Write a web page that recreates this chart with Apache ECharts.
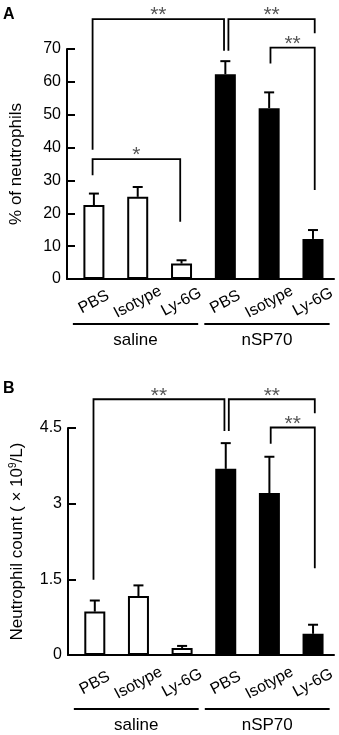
<!DOCTYPE html>
<html>
<head>
<meta charset="utf-8">
<script src="https://cdn.jsdelivr.net/npm/echarts@6/dist/echarts.min.js"></script>
<style>
    html, body { margin: 0; padding: 0; background: #fff; }
    #chart { width: 339px; height: 735px; }
</style>
</head>
<body>
<div id="chart"></div>
<script>
const categories = ["PBS", "Isotype", "Ly-6G", "PBS", "Isotype", "Ly-6G"];
const groupNames = ["saline", "nSP70"];
const groupRanges = [[0, 2], [3, 5]];

// panel A: % of neutrophils
const pctMean = [22.5, 25.0, 4.7, 62.3, 52.0, 12.2];
const pctErr = [3.5, 3.0, 1.0, 4.0, 4.8, 2.7];
const pctTicks = [0, 10, 20, 30, 40, 50, 60, 70];
// [x left, x right, top y, left leg end, right leg end]
const pctBrackets = [
    [-0.03, 2.97, 79.1, 39.3, 69.5],
    [3.07, 5.04, 79.1, 69.5, 74.8],
    [4.03, 5.04, 70.4, 65.6, 27.1],
    [-0.03, 1.97, 36.5, 31.6, 17.4]
];
const pctMarks = ["**", "**", "**", "*"];

// panel B: neutrophil count
const countMean = [0.86, 1.17, 0.14, 3.69, 3.21, 0.42];
const countErr = [0.22, 0.21, 0.04, 0.51, 0.72, 0.18];
const countTicks = [0, 1.5, 3, 4.5];
const countBrackets = [
    [-0.03, 2.97, 5.07, 1.49, 4.44],
    [3.07, 5.04, 5.07, 4.44, 4.79],
    [4.03, 5.04, 4.51, 4.19, 1.72]
];
const countMarks = ["**", "**", "**"];

const FONT = "Liberation Sans, Arial, sans-serif";

function groupOf (i) {
    return groupRanges.findIndex(r => i >= r[0] && i <= r[1]);
}

function barSeries (axisIndex, means) {
    return {
        type: "bar",
        xAxisIndex: axisIndex,
        yAxisIndex: axisIndex,
        barWidth: 21,
        data: means.map((m, i) => ({
            value: [i, m],
            itemStyle: { color: groupOf(i) === 0 ? "#fff" : "#000" }
        })),
        itemStyle: { borderColor: "#000", borderWidth: 2 },
        silent: true,
        z: 2
    };
}

function errorSeries (axisIndex, means, errs) {
    return {
        type: "custom",
        xAxisIndex: axisIndex,
        yAxisIndex: axisIndex,
        data: means.map((m, i) => [i, m, errs[i]]),
        encode: { x: 0, y: 1 },
        silent: true,
        z: 3,
        renderItem: function (params, api) {
            const x = api.value(0), m = api.value(1), e = api.value(2);
            const base = api.coord([x, m]);
            const top = api.coord([x, m + e]);
            const st = { stroke: "#000", lineWidth: 2 };
            return {
                type: "group",
                children: [
                    { type: "line", shape: { x1: top[0], y1: base[1], x2: top[0], y2: top[1] }, style: st },
                    { type: "line", shape: { x1: top[0] - 5, y1: top[1], x2: top[0] + 5, y2: top[1] }, style: st }
                ]
            };
        }
    };
}

function bracketSeries (axisIndex, brackets, marks) {
    return {
        type: "custom",
        xAxisIndex: axisIndex,
        yAxisIndex: axisIndex,
        data: brackets,
        encode: { x: [0, 1], y: [2, 3, 4] },
        clip: false,
        silent: true,
        z: 4,
        renderItem: function (params, api) {
            const x1 = api.value(0), x2 = api.value(1), y = api.value(2);
            const a = api.coord([x1, api.value(3)]);
            const b = api.coord([x1, y]);
            const c = api.coord([x2, y]);
            const d = api.coord([x2, api.value(4)]);
            return {
                type: "group",
                children: [
                    {
                        type: "polyline",
                        shape: { points: [a, b, c, d] },
                        style: { stroke: "#000", lineWidth: 1.8, fill: null }
                    },
                    {
                        type: "text",
                        style: {
                            text: marks[params.dataIndex],
                            x: (b[0] + c[0]) / 2,
                            y: b[1] + 7,
                            align: "center",
                            verticalAlign: "bottom",
                            fill: "#555",
                            fontSize: 21,
                            fontFamily: FONT
                        }
                    }
                ]
            };
        }
    };
}

function groupSeries (axisIndex, lineGap, textGap) {
    return {
        type: "custom",
        xAxisIndex: axisIndex,
        yAxisIndex: axisIndex,
        data: groupRanges,
        encode: { x: [0, 1] },
        clip: false,
        silent: true,
        renderItem: function (params, api) {
            const p1 = api.coord([api.value(0) - 0.48, 0]);
            const p2 = api.coord([api.value(1) + 0.38, 0]);
            const y = p1[1] + lineGap;
            return {
                type: "group",
                children: [
                    {
                        type: "line",
                        shape: { x1: p1[0], y1: y, x2: p2[0], y2: y },
                        style: { stroke: "#000", lineWidth: 1.8 }
                    },
                    {
                        type: "text",
                        style: {
                            text: groupNames[params.dataIndex],
                            x: (p1[0] + p2[0]) / 2,
                            y: p1[1] + textGap,
                            align: "center",
                            verticalAlign: "middle",
                            fill: "#000",
                            fontSize: 17,
                            fontFamily: FONT
                        }
                    }
                ]
            };
        }
    };
}

function xAxisFor (gridIndex, labelMargin) {
    return {
        type: "value",
        gridIndex: gridIndex,
        min: -0.614,
        max: 5.48,
        axisLine: { show: true, onZero: false, lineStyle: { color: "#000", width: 2 } },
        axisTick: { show: false },
        splitLine: { show: false },
        axisLabel: {
            customValues: categories.map((c, i) => i),
            formatter: v => categories[Math.round(v)],
            rotate: 28,
            align: "center",
            verticalAlign: "middle",
            margin: labelMargin,
            color: "#000",
            fontSize: 16,
            fontFamily: FONT
        }
    };
}

function yAxisFor (gridIndex, ticks, name) {
    return {
        type: "value",
        gridIndex: gridIndex,
        min: ticks[0],
        max: ticks[ticks.length - 1],
        interval: ticks[1] - ticks[0],
        name: name,
        nameLocation: "middle",
        nameGap: 42,
        nameTextStyle: {
            color: "#000",
            fontSize: 17,
            fontFamily: FONT,
            rich: { sup: { fontSize: 10, verticalAlign: "top", padding: [0, 0, 8, 0], fontFamily: FONT } }
        },
        axisLine: { show: true, onZero: false, lineStyle: { color: "#000", width: 2 } },
        axisTick: { show: true, inside: true, length: 8, lineStyle: { color: "#000", width: 2 } },
        splitLine: { show: false },
        axisLabel: { color: "#000", fontSize: 16, fontFamily: FONT, margin: 6 }
    };
}

const chart = echarts.init(document.getElementById("chart"));
const option = {
    animation: false,
    graphic: [
        { type: "text", left: 3, top: 7, style: { text: "A", font: "bold 16px " + FONT, fill: "#000" } },
        { type: "text", left: 3, top: 381, style: { text: "B", font: "bold 16px " + FONT, fill: "#000" } }
    ],
    grid: [
        { left: 63, right: 5, top: 49, height: 230 },
        { left: 63, right: 5, top: 428, height: 227 }
    ],
    xAxis: [xAxisFor(0, 23), xAxisFor(1, 28)],
    yAxis: [
        yAxisFor(0, pctTicks, "% of neutrophils"),
        yAxisFor(1, countTicks, "Neutrophil count ( × 10{sup|9}/L)")
    ],
    series: [
        barSeries(0, pctMean),
        errorSeries(0, pctMean, pctErr),
        bracketSeries(0, pctBrackets, pctMarks),
        groupSeries(0, 45, 61),
        barSeries(1, countMean),
        errorSeries(1, countMean, countErr),
        bracketSeries(1, countBrackets, countMarks),
        groupSeries(1, 54, 70)
    ]
};
chart.setOption(option);
</script>
</body>
</html>
